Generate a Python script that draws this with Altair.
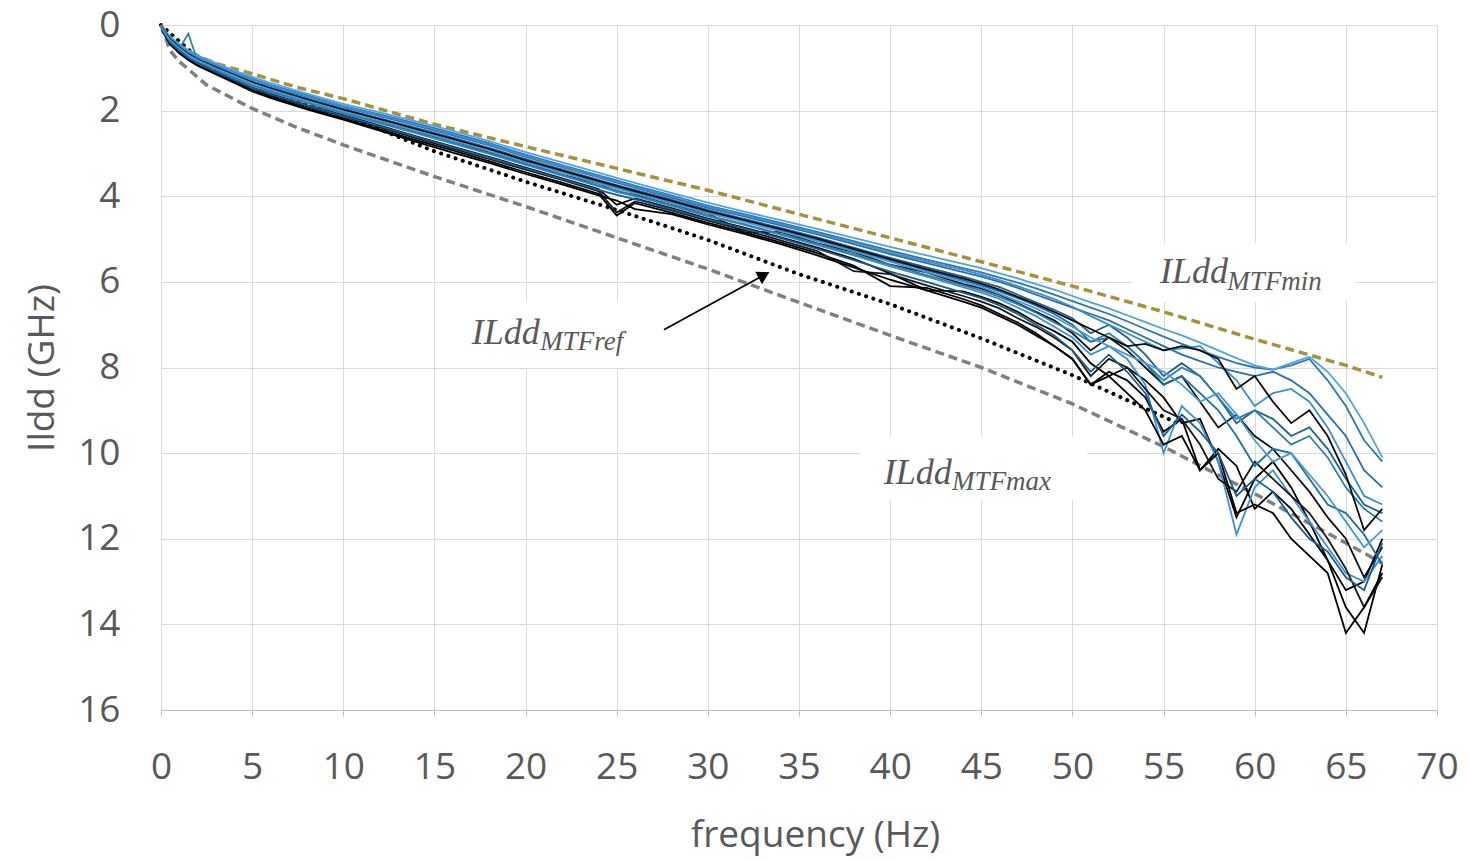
import altair as alt
import pandas as pd

# ---------------- data ----------------
FREQ = ([0, 0.5, 1, 1.5, 2, 3, 4, 5, 6, 8, 10, 12, 14, 16, 18, 20, 22, 24, 25, 26,
         28, 30, 32, 34, 36, 38, 40, 42, 44, 45] + list(range(46, 68)))

TA = [0.07, 0.44, 0.64, 0.8, 0.93, 1.13, 1.33, 1.52, 1.67, 1.94,
      2.18, 2.44, 2.69, 2.93, 3.18, 3.44, 3.68, 3.94, 4.45, 4.16,
      4.38, 4.62, 4.84, 5.08, 5.33, 5.62, 6.1, 6.14, 6.4, 6.55,
      6.75, 6.95, 7.2, 7.5, 7.8, 8.4, 8.1, 8.3, 8.7, 9.5, 9.2,
      10.4, 9.9, 10.3, 11.3, 10.9, 11.3, 11.9, 12.5, 13.6, 14.2, 12.6]
TB = [0.03, 0.3, 0.47, 0.62, 0.74, 0.93, 1.1, 1.25, 1.4, 1.64,
      1.89, 2.09, 2.3, 2.52, 2.76, 3.03, 3.27, 3.51, 3.63, 3.75,
      3.98, 4.22, 4.42, 4.62, 4.83, 5.05, 5.27, 5.48, 5.68, 5.78,
      5.9, 6.02, 6.15, 6.3, 6.45, 6.6, 6.75, 6.92, 7.1, 7.28, 7.45,
      7.6, 7.75, 7.9, 8.0, 8.05, 7.95, 7.8, 8.3, 8.9, 9.7, 10.2]
TC = [0.05, 0.36, 0.56, 0.7, 0.84, 1.01, 1.22, 1.38, 1.55, 1.78,
      2.05, 2.25, 2.5, 2.7, 2.98, 3.22, 3.5, 3.7, 3.9, 3.96,
      4.2, 4.4, 4.85, 4.83, 5.1, 5.3, 5.6, 5.78, 6.05, 6.15,
      6.3, 6.5, 6.7, 6.9, 7.2, 7.6, 7.3, 7.6, 8.0, 8.4, 8.2,
      8.8, 9.4, 9.1, 9.6, 9.9, 10.4, 10.9, 11.5, 12.0, 12.9, 12.2]
TD = [0.04, 0.33, 0.51, 0.66, 0.79, 0.97, 1.15, 1.32, 1.46, 1.72,
      1.96, 2.18, 2.4, 2.63, 2.87, 3.13, 3.37, 3.62, 3.74, 3.85,
      4.08, 4.32, 4.53, 4.74, 4.96, 5.2, 5.44, 5.66, 5.88, 6.0,
      6.12, 6.3, 6.48, 6.65, 6.85, 7.2, 7.0, 7.3, 7.7, 8.2, 7.9,
      8.2, 8.7, 9.3, 9.0, 9.2, 9.6, 9.4, 9.9, 10.6, 11.2, 11.4]
TE = [0.06, 0.4, 0.6, 0.76, 0.88, 1.08, 1.27, 1.46, 1.6, 1.87,
      2.1, 2.35, 2.6, 2.84, 3.08, 3.33, 3.58, 3.83, 4.2, 4.05,
      4.28, 4.52, 4.73, 4.96, 5.2, 5.46, 5.8, 6.2, 6.22, 6.35,
      6.5, 6.7, 6.95, 7.15, 7.4, 7.9, 8.2, 8.0, 8.3, 8.7, 9.3,
      9.2, 10.2, 11.5, 10.6, 10.2, 10.8, 11.6, 12.5, 13.2, 13.0, 12.0]
TF = [0.02, 0.27, 0.44, 0.59, 0.71, 0.89, 1.06, 1.21, 1.35, 1.6,
      1.84, 2.04, 2.25, 2.47, 2.71, 2.97, 3.21, 3.45, 3.57, 3.69,
      3.92, 4.15, 4.36, 4.56, 4.76, 4.97, 5.18, 5.38, 5.58, 5.68,
      5.8, 5.92, 6.05, 6.18, 6.33, 6.48, 6.62, 6.78, 6.94, 7.1, 7.25,
      7.42, 7.6, 7.78, 7.95, 8.05, 7.9, 7.75, 8.1, 8.6, 9.3, 10.1]
TG = [0.05, 0.38, 0.57, 0.74, 0.85, 1.05, 1.24, 1.42, 1.56, 1.82,
      2.07, 2.3, 2.53, 2.77, 3.01, 3.27, 3.52, 3.77, 3.9, 4.0,
      4.23, 4.47, 4.67, 4.9, 5.14, 5.38, 5.64, 5.88, 6.12, 6.25,
      6.4, 6.6, 6.8, 7.05, 7.3, 7.7, 7.5, 7.8, 8.4, 10.0, 8.9,
      9.3, 10.2, 11.9, 10.8, 10.4, 11.0, 11.6, 12.2, 12.8, 13.0, 12.4]
TH = [0.07, 0.42, 0.62, 0.78, 0.91, 1.11, 1.3, 1.49, 1.64, 1.9,
      2.14, 2.39, 2.64, 2.89, 3.13, 3.38, 3.62, 3.88, 4.38, 4.12,
      4.33, 4.57, 4.79, 5.03, 5.28, 5.75, 5.82, 6.08, 6.33, 6.46,
      6.62, 6.85, 7.05, 7.3, 7.6, 8.2, 7.8, 8.0, 8.5, 9.0, 9.2,
      9.8, 10.6, 10.9, 10.2, 10.6, 11.0, 11.4, 12.0, 12.7, 13.6, 12.9]
TI = [0.03, 0.31, 0.49, 0.64, 0.77, 0.95, 1.12, 1.28, 1.42, 1.68,
      1.92, 2.13, 2.35, 2.58, 2.81, 3.08, 3.32, 3.56, 3.68, 3.8,
      4.03, 4.27, 4.47, 4.68, 4.89, 5.12, 5.35, 5.56, 5.77, 5.88,
      6.0, 6.14, 6.3, 6.45, 6.6, 6.75, 6.9, 7.1, 7.3, 7.5, 7.7,
      7.85, 8.0, 8.1, 8.2, 8.1, 8.3, 8.6, 9.1, 9.6, 10.4, 10.8]
TJ = [0.04, 0.35, 0.53, 0.69, 0.81, 1.0, 1.18, 1.35, 1.5, 1.76,
      2.0, 2.22, 2.45, 2.68, 2.92, 3.19, 3.43, 3.67, 3.79, 3.91,
      4.14, 4.38, 4.58, 4.8, 5.02, 5.26, 5.5, 5.73, 5.96, 6.08,
      6.22, 6.38, 6.55, 6.75, 7.0, 7.4, 7.3, 7.5, 7.9, 8.4, 8.2,
      8.6, 9.0, 9.6, 10.3, 9.9, 10.0, 10.6, 11.2, 11.4, 11.9, 12.6]
TK = [0.08, 0.45, 0.66, 0.82, 0.95, 1.15, 1.35, 1.55, 1.7, 1.97,
      2.21, 2.47, 2.73, 2.98, 3.22, 3.48, 3.72, 3.98, 4.1, 4.3,
      4.42, 4.66, 4.88, 5.12, 5.38, 5.66, 5.95, 6.2, 6.46, 6.6,
      6.8, 7.0, 7.25, 7.5, 7.8, 8.4, 8.2, 8.6, 9.0, 9.8, 9.6,
      10.4, 10.0, 11.4, 11.2, 11.4, 12.0, 12.4, 12.8, 14.2, 13.6, 12.8]
TL = [0.05, 0.37, 0.56, 0.2, 0.84, 1.03, 1.22, 1.4, 1.55, 1.8,
      2.05, 2.28, 2.51, 2.75, 2.99, 3.25, 3.5, 3.75, 3.87, 3.98,
      4.21, 4.45, 4.65, 4.88, 5.11, 5.35, 5.6, 5.84, 6.08, 6.2,
      6.35, 6.52, 6.72, 6.95, 7.15, 7.4, 7.2, 7.5, 7.9, 8.3, 8.0,
      8.2, 8.7, 9.2, 9.0, 9.4, 9.8, 9.6, 10.1, 10.8, 11.3, 11.6]
TM = [0.03, 0.3, 0.48, 0.63, 0.75, 0.94, 1.11, 1.27, 1.41, 1.66,
      1.9, 2.11, 2.33, 2.55, 2.79, 3.06, 3.3, 3.54, 3.66, 3.78,
      4.0, 4.24, 4.44, 4.65, 4.86, 5.08, 5.31, 5.52, 5.72, 5.83,
      5.96, 6.1, 6.25, 6.4, 6.58, 6.8, 7.0, 7.2, 7.4, 7.6, 7.55,
      7.5, 7.9, 8.3, 8.9, 8.6, 8.5, 8.8, 9.4, 10.2, 11.0, 11.2]
TN = [0.04, 0.34, 0.52, 0.68, 0.8, 0.99, 1.17, 1.34, 1.48, 1.74,
      1.98, 2.2, 2.43, 2.66, 2.9, 3.16, 3.4, 3.64, 3.76, 3.88,
      4.11, 4.35, 4.56, 4.77, 4.99, 5.23, 5.47, 5.7, 5.92, 6.04,
      6.18, 6.35, 6.52, 6.7, 6.9, 7.1, 7.3, 7.5, 7.45, 7.6, 7.5,
      7.6, 7.8, 8.5, 8.2, 8.8, 9.3, 9.0, 9.6, 10.5, 11.8, 11.3]
TO = [0.06, 0.41, 0.6, 0.77, 0.89, 1.09, 1.28, 1.47, 1.61, 1.88,
      2.12, 2.36, 2.61, 2.85, 3.09, 3.35, 3.6, 3.85, 3.97, 4.07,
      4.3, 4.54, 4.75, 4.98, 5.23, 5.49, 5.76, 6.0, 6.25, 6.38,
      6.55, 6.75, 7.0, 7.25, 7.6, 8.1, 7.7, 8.1, 8.6, 9.6, 9.1,
      9.5, 10.0, 11.0, 10.6, 10.9, 11.5, 12.0, 12.3, 12.9, 13.2, 12.1]
TP = [0.05, 0.36, 0.54, 0.7, 0.82, 1.01, 1.19, 1.37, 1.51, 1.77,
      2.02, 2.24, 2.47, 2.7, 2.94, 3.21, 3.45, 3.7, 3.82, 3.93,
      4.16, 4.4, 4.6, 4.82, 5.05, 5.29, 5.53, 5.77, 6.0, 6.12,
      6.28, 6.45, 6.62, 6.82, 7.05, 7.3, 7.5, 7.7, 7.9, 8.1, 8.4,
      8.8, 8.6, 9.1, 9.7, 10.2, 10.0, 10.5, 11.0, 11.6, 12.2, 11.8]

TRACES = {"a": TA, "b": TB, "c": TC, "d": TD, "e": TE, "f": TF, "g": TG, "h": TH,
          "i": TI, "j": TJ, "k": TK, "l": TL, "m": TM, "n": TN, "o": TO, "p": TP}
TRACE_COLORS = {"a": "#000000", "b": "#2e75b6", "c": "#111111", "d": "#1f5f99",
                "e": "#000000", "f": "#4fa3e3", "g": "#3d8fd6", "h": "#1a1a1a",
                "i": "#2a6db0", "j": "#1b6fa8", "k": "#000000", "l": "#2f7fa0",
                "m": "#3b8ed0", "n": "#0d0d0d", "o": "#1a5a8c", "p": "#4a98d8"}

# reference limit lines
MIN_F = [0, 0.5, 1.5, 3, 5, 7.5, 10, 15, 20, 25, 30, 35, 40, 45, 50, 55, 60, 65, 67]
MIN_V = [0.0, 0.35, 0.62, 0.9, 1.14, 1.46, 1.72, 2.32, 2.84, 3.35, 3.86, 4.42, 4.97,
         5.53, 6.1, 6.7, 7.34, 7.95, 8.23]
MAX_F = [0, 0.5, 1, 2.5, 5, 7.5, 10, 15, 20, 25, 30, 35, 40, 45, 50, 55, 60, 65, 67]
MAX_V = [0.0, 0.6, 0.85, 1.4, 1.95, 2.4, 2.8, 3.54, 4.24, 4.97, 5.7, 6.48, 7.25,
         8.0, 8.85, 9.85, 10.95, 12.1, 12.57]
REF_F = [0, 2.5, 5, 10, 15, 20, 25, 30, 35, 40, 45, 50, 55, 56]
REF_V = [0.0, 0.95, 1.38, 2.1, 2.95, 3.66, 4.32, 5.02, 5.82, 6.52, 7.32, 8.18, 9.15,
         9.35]

X_TICKS = list(range(0, 71, 5))
Y_TICKS = list(range(0, 17, 2))

# annotation labels (data units)
LBL_MAIN = ["ILdd", "ILdd", "ILdd"]
LBL_SUB = ["MTFmin", "MTFref", "MTFmax"]
LBL_F = [54.8, 17.05, 39.65]
LBL_V = [6.03, 7.45, 10.72]
SUB_F = [58.5, 20.8, 43.4]
SUB_V = [6.19, 7.58, 10.86]
BOX_F0 = [53.27, 16.13, 38.34]
BOX_F1 = [65.5, 27.65, 50.8]
BOX_V0 = [5.09, 6.45, 9.62]
BOX_V1 = [6.47, 8.01, 11.1]
ARROW_F = [27.59, 33.08]
ARROW_V = [7.12, 5.84]

# ---------------- build tables ----------------
rows = []
for name, vals in TRACES.items():
    assert len(vals) == len(FREQ), (name, len(vals), len(FREQ))
    for fq, v in zip(FREQ, vals):
        rows.append({"f": fq, "v": v, "trace": name})
traces_df = pd.DataFrame(rows)

min_df = pd.DataFrame({"f": MIN_F, "v": MIN_V})
max_df = pd.DataFrame({"f": MAX_F, "v": MAX_V})
ref_df = pd.DataFrame({"f": REF_F, "v": REF_V})
lbl_df = pd.DataFrame({"f": LBL_F, "v": LBL_V, "t": LBL_MAIN})
sub_df = pd.DataFrame({"f": SUB_F, "v": SUB_V, "t": LBL_SUB})
box_df = pd.DataFrame({"f0": BOX_F0, "f1": BOX_F1, "v0": BOX_V0, "v1": BOX_V1})
arrow_df = pd.DataFrame({"f0": [ARROW_F[0]], "v0": [ARROW_V[0]],
                         "f1": [ARROW_F[1]], "v1": [ARROW_V[1]]})
head_df = pd.DataFrame({"f": [ARROW_F[1]], "v": [ARROW_V[1]]})

GREY = "#595959"
FONT = "Open Sans"
XS = alt.Scale(domain=[0, 70], nice=False, zero=False)
YS = alt.Scale(domain=[0, 16], reverse=True, nice=False, zero=False)
XAX = alt.Axis(values=X_TICKS, title="frequency (Hz)", grid=True, gridColor="#d9d9d9",
               gridWidth=1, domain=True, domainColor="#bfbfbf", domainWidth=1,
               ticks=True, tickColor="#bfbfbf", tickSize=6, labelFont=FONT,
               labelFontSize=37, labelColor=GREY, labelPadding=33, labelFlush=False,
               labelOverlap=False, titleFont=FONT, titleFontSize=37,
               titleFontWeight="normal", titleColor=GREY, titleX=654, titleY=125,
               titleBaseline="middle")
YAX = alt.Axis(values=Y_TICKS, title="Ildd (GHz)", grid=True, gridColor="#d9d9d9",
               gridWidth=1, domain=False, ticks=False, labelFont=FONT,
               labelFontSize=37, labelColor=GREY, labelPadding=41, labelOverlap=False,
               titleFont=FONT, titleFontSize=37, titleFontWeight="normal",
               titleColor=GREY, titleX=-119, titleY=342.5, titleBaseline="middle",
               titleAngle=270)


def X(field):
    return alt.X(f"{field}:Q", scale=XS, axis=XAX)


def Y(field):
    return alt.Y(f"{field}:Q", scale=YS, axis=YAX)


boxes = alt.Chart(box_df).mark_rect(color="white", opacity=1).encode(
    x=X("f0"), x2="f1", y=Y("v0"), y2="v1")

max_line = alt.Chart(max_df).mark_line(color="#808080", strokeWidth=3.5,
                                       strokeDash=[9, 5]).encode(x=X("f"), y=Y("v"))
ref_line = alt.Chart(ref_df).mark_line(color="#000000", strokeWidth=4, strokeCap="round",
                                       strokeDash=[0.1, 7.5]).encode(x=X("f"), y=Y("v"))
min_line = alt.Chart(min_df).mark_line(color="#a8913a", strokeWidth=3.5,
                                       strokeDash=[9, 5]).encode(x=X("f"), y=Y("v"))

trace_lines = alt.Chart(traces_df).mark_line(strokeWidth=1.8, clip=True).encode(
    x=X("f"), y=Y("v"),
    color=alt.Color("trace:N", legend=None,
                    scale=alt.Scale(domain=list(TRACE_COLORS.keys()),
                                    range=list(TRACE_COLORS.values()))))

labels = alt.Chart(lbl_df).mark_text(font="Liberation Serif", fontStyle="italic",
                                     fontSize=36, color=GREY, align="left",
                                     baseline="alphabetic").encode(
    x=X("f"), y=Y("v"), text="t:N")
subs = alt.Chart(sub_df).mark_text(font="Liberation Serif", fontStyle="italic",
                                   fontSize=27, color=GREY, align="left",
                                   baseline="alphabetic").encode(
    x=X("f"), y=Y("v"), text="t:N")

arrow = alt.Chart(arrow_df).mark_rule(color="black", strokeWidth=1.6).encode(
    x=X("f0"), y=Y("v0"), x2="f1", y2="v1")
head = alt.Chart(head_df).mark_point(shape="triangle-up", filled=True, size=200,
                                     angle=61, color="black", opacity=1).encode(
    x=X("f"), y=Y("v"))

chart = alt.layer(boxes, max_line, ref_line, min_line, trace_lines, labels, subs,
                  arrow, head).properties(
    width=1276, height=685,
    autosize=alt.AutoSizeParams(type="none"),
    padding={"left": 161, "top": 25, "right": 31, "bottom": 151},
    background="white",
).configure_view(stroke=None)

chart.save("out.html", embed_options={"renderer": "svg", "actions": False})
